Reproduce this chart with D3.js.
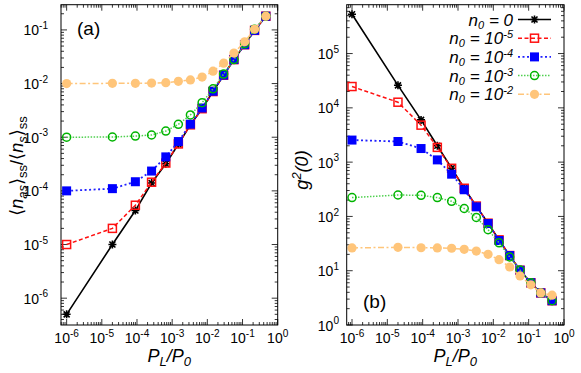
<!DOCTYPE html>
<html><head><meta charset="utf-8">
<script src="https://cdn.jsdelivr.net/npm/d3@7"></script>
<style>body{margin:0;background:#fff}</style>
</head><body>
<svg id="c" width="581" height="373"></svg>
<script>
const xVals = [1e-6, 2e-5, 9e-5, 2.6e-4, 6.6e-4, 1.5e-3, 3.3e-3, 7.1e-3, 1.45e-2, 2.9e-2, 5.7e-2, 0.115, 0.22, 0.46];
const seriesNames = ["0", "-5", "-4", "-3", "-2"];
// panel (a): <n_as>/<n_s>
const aN0 = [5e-7, 1e-5, 4.3e-5, 1.4e-4, 3.2e-4, 7.4e-4, 1.7e-3, 3.4e-3, 7.1e-3, 1.43e-2, 2.8e-2, 5.3e-2, 9.8e-2, 0.18];
const aN5 = [1e-5, 2e-5, 5.4e-5, 1.45e-4, 3.3e-4, 7.5e-4, 1.7e-3, 3.4e-3, 7.1e-3, 1.43e-2, 2.8e-2, 5.3e-2, 9.8e-2, 0.18];
const aN4 = [1e-4, 1.1e-4, 1.48e-4, 2.34e-4, 4.3e-4, 8.3e-4, 1.75e-3, 3.5e-3, 7.2e-3, 1.44e-2, 2.8e-2, 5.3e-2, 9.8e-2, 0.18];
const aN3 = [1e-3, 1.01e-3, 1.05e-3, 1.1e-3, 1.3e-3, 1.74e-3, 2.6e-3, 4.4e-3, 8e-3, 1.5e-2, 2.8e-2, 5.5e-2, 0.103, 0.18];
const aN2 = [1e-2, 1.01e-2, 1.01e-2, 1.02e-2, 1.04e-2, 1.1e-2, 1.17e-2, 1.32e-2, 1.7e-2, 2.4e-2, 3.7e-2, 6.0e-2, 0.103, 0.18];
// panel (b): g2(0)
const bN0 = [5.3e5, 2.6e4, 6e3, 2e3, 770, 330, 155, 75, 37, 19, 10.2, 6.0, 3.9, 2.8];
const bN5 = [2.47e4, 1.27e4, 4.8e3, 1.87e3, 770, 330, 155, 75, 37, 19, 10.2, 6.0, 3.9, 2.8];
const bN4 = [2.55e3, 2.4e3, 1.78e3, 1.1e3, 600, 310, 150, 74, 36, 19, 10.2, 6.0, 3.9, 2.8];
const bN3 = [222, 248, 245, 222, 190, 140, 96, 57, 32.6, 17.9, 10.3, 6.0, 3.9, 2.8];
const bN2 = [26.3, 27, 26.5, 26.3, 25.9, 24.8, 23, 20, 16, 11.7, 8, 5.5, 3.9, 3.55];
const xTickExp = [-6, -5, -4, -3, -2, -1, 0];
const aTickExp = [-6, -5, -4, -3, -2, -1];
const bTickExp = [0, 1, 2, 3, 4, 5];

const styles = [
  {color:"#000000", line:"#000000", dash:null, w:1.6, marker:"star"},
  {color:"#ff1010", line:"#ff1010", dash:"4,2.5", w:1.5, marker:"osq"},
  {color:"#0000ff", line:"#2020ff", dash:"2,2.5", w:1.8, marker:"fsq"},
  {color:"#00b400", line:"#50d050", dash:"1.5,1.5", w:1.5, marker:"ocirc"},
  {color:"#ffc57a", line:"#ffc57a", dash:"6,2.5,2,2.5", w:1.5, marker:"fcirc"}
];

const svg = d3.select("#c");
const FONT = "'Liberation Sans', Arial, 'DejaVu Sans', sans-serif";

function drawMarker(g, type, x, y, st) {
  if (type === "star") {
    const s = 4;
    const p = `M${x-s},${y}L${x+s},${y}M${x},${y-s}L${x},${y+s}M${x-s*0.75},${y-s*0.75}L${x+s*0.75},${y+s*0.75}M${x-s*0.75},${y+s*0.75}L${x+s*0.75},${y-s*0.75}`;
    g.append("path").attr("d", p).attr("stroke", st.color).attr("stroke-width", 1.6).attr("fill", "none");
  } else if (type === "osq") {
    g.append("rect").attr("x", x-4).attr("y", y-4).attr("width", 8).attr("height", 8)
      .attr("fill", "none").attr("stroke", st.color).attr("stroke-width", 1.5);
  } else if (type === "fsq") {
    g.append("rect").attr("x", x-4.5).attr("y", y-4.5).attr("width", 9).attr("height", 9).attr("fill", st.color);
  } else if (type === "ocirc") {
    g.append("circle").attr("cx", x).attr("cy", y).attr("r", 4).attr("fill", "none")
      .attr("stroke", st.color).attr("stroke-width", 1.5);
  } else {
    g.append("circle").attr("cx", x).attr("cy", y).attr("r", 4.6).attr("fill", st.color);
  }
}

function powLabel(sel, exp, fs) {
  sel.append("tspan").text("10");
  sel.append("tspan").attr("dy", -fs*0.45).attr("font-size", fs*0.72).text(String(exp));
}

function panel(opt) {
  const {x0, x1, y0, y1, xDom, yDom, series, yTicks} = opt;
  const g = svg.append("g");
  const x = d3.scaleLog().domain(xDom).range([x0, x1]);
  const y = d3.scaleLog().domain(yDom).range([y1, y0]);

  const xMinor = [];
  for (let e = -7; e <= 0; e++) for (let m = 1; m < 10; m++) {
    const v = m * Math.pow(10, e);
    if (v >= xDom[0] && v <= xDom[1]) xMinor.push({v, major: m === 1});
  }
  const yMinor = [];
  for (let e = -7; e <= 6; e++) for (let m = 1; m < 10; m++) {
    const v = m * Math.pow(10, e);
    if (v >= yDom[0]*0.9999 && v <= yDom[1]) yMinor.push({v, major: m === 1});
  }
  const tk = g.append("g").attr("stroke", "#000").attr("stroke-width", 0.8);
  xMinor.forEach(t => {
    const L = t.major ? 6 : 3, px = x(t.v);
    tk.append("line").attr("x1", px).attr("x2", px).attr("y1", y1).attr("y2", y1 - L);
    tk.append("line").attr("x1", px).attr("x2", px).attr("y1", y0).attr("y2", y0 + L);
  });
  yMinor.forEach(t => {
    const L = t.major ? 6 : 3, py = y(t.v);
    tk.append("line").attr("y1", py).attr("y2", py).attr("x1", x0).attr("x2", x0 + L);
    tk.append("line").attr("y1", py).attr("y2", py).attr("x1", x1).attr("x2", x1 - L);
  });

  const line = d3.line().x(d => x(d[0])).y(d => y(d[1]));
  series.forEach((vals, i) => {
    const st = styles[i];
    const pts = xVals.map((xv, j) => [xv, vals[j]]);
    g.append("path").datum(pts).attr("d", line).attr("fill", "none")
      .attr("stroke", st.line).attr("stroke-width", st.w)
      .attr("stroke-dasharray", st.dash);
    pts.forEach(p => drawMarker(g, st.marker, x(p[0]), y(p[1]), st));
  });

  g.append("rect").attr("x", x0).attr("y", y0).attr("width", x1 - x0).attr("height", y1 - y0)
    .attr("fill", "none").attr("stroke", "#000").attr("stroke-width", 1);

  const fs = 14;
  xTickExp.forEach(e => {
    const t = g.append("text").attr("x", x(Math.pow(10, e))).attr("y", y1 + 18)
      .attr("text-anchor", "middle").attr("font-family", FONT).attr("font-size", fs);
    powLabel(t, e, fs);
  });
  yTicks.forEach(e => {
    const t = g.append("text").attr("x", opt.yLabX).attr("y", y(Math.pow(10, e)) + 5.5)
      .attr("text-anchor", "end").attr("font-family", FONT).attr("font-size", fs);
    powLabel(t, e, fs);
  });

  const xt = g.append("text").attr("x", (x0 + x1) / 2).attr("y", y1 + 37)
    .attr("text-anchor", "middle").attr("font-family", FONT).attr("font-size", 18).attr("font-style", "italic");
  xt.append("tspan").text("P");
  xt.append("tspan").attr("dy", 4).attr("font-size", 13).text("L");
  xt.append("tspan").attr("dy", -4).text("/P");
  xt.append("tspan").attr("dy", 4).attr("font-size", 13).text("0");
  return {g, x, y};
}

panel({x0: 61, x1: 277.7, y0: 4.7, y1: 325,
  xDom: [Math.pow(10, -6.16), 1], yDom: [Math.pow(10, -6.5), Math.pow(10, -0.53)],
  series: [aN0, aN5, aN4, aN3, aN2], yTicks: aTickExp, yLabX: 48});
panel({x0: 346.7, x1: 564, y0: 4.7, y1: 325,
  xDom: [Math.pow(10, -6.15), 1], yDom: [1, Math.pow(10, 5.9)],
  series: [bN0, bN5, bN4, bN3, bN2], yTicks: bTickExp, yLabX: 339});

svg.append("text").attr("x", 77).attr("y", 35).attr("font-family", FONT).attr("font-size", 19).text("(a)");
svg.append("text").attr("x", 363).attr("y", 308).attr("font-family", FONT).attr("font-size", 19).text("(b)");

const ya = svg.append("text").attr("transform", "translate(23,166) rotate(-90)")
  .attr("text-anchor", "middle").attr("font-family", FONT).attr("font-size", 18);
ya.append("tspan").text("\u27E8");
ya.append("tspan").attr("font-style", "italic").text("n");
ya.append("tspan").attr("dy", 4).attr("font-size", 13).attr("font-style", "italic").text("as");
ya.append("tspan").attr("dy", -4).text("\u27E9");
ya.append("tspan").attr("dy", 4).attr("font-size", 13).text("ss");
ya.append("tspan").attr("dy", -4).text("/\u27E8");
ya.append("tspan").attr("font-style", "italic").text("n");
ya.append("tspan").attr("dy", 4).attr("font-size", 13).attr("font-style", "italic").text("s");
ya.append("tspan").attr("dy", -4).text("\u27E9");
ya.append("tspan").attr("dy", 4).attr("font-size", 13).text("ss");

const yb = svg.append("text").attr("transform", "translate(308,170) rotate(-90)")
  .attr("text-anchor", "middle").attr("font-family", FONT).attr("font-size", 18).attr("font-style", "italic");
yb.append("tspan").text("g");
yb.append("tspan").attr("dy", -7).attr("font-size", 13).text("2");
yb.append("tspan").attr("dy", 7).text("(0)");

const lg = svg.append("g");
seriesNames.forEach((nm, i) => {
  const st = styles[i];
  const yy = 19.5 + i * 18.7;
  const t = lg.append("text").attr("x", 513).attr("y", yy + 6).attr("text-anchor", "end")
    .attr("font-family", FONT).attr("font-size", 17).attr("font-style", "italic");
  t.append("tspan").text("n");
  t.append("tspan").attr("dy", 3).attr("font-size", 11).text("0");
  if (nm === "0") {
    t.append("tspan").attr("dy", -3).text(" = 0");
  } else {
    t.append("tspan").attr("dy", -3).text(" = 10");
    t.append("tspan").attr("dy", -6).attr("font-size", 11).text(nm);
  }
  lg.append("line").attr("x1", 518).attr("x2", 551).attr("y1", yy).attr("y2", yy)
    .attr("stroke", st.line).attr("stroke-width", st.w).attr("stroke-dasharray", st.dash);
  drawMarker(lg, st.marker, 534.5, yy, st);
});
</script>
</body></html>
